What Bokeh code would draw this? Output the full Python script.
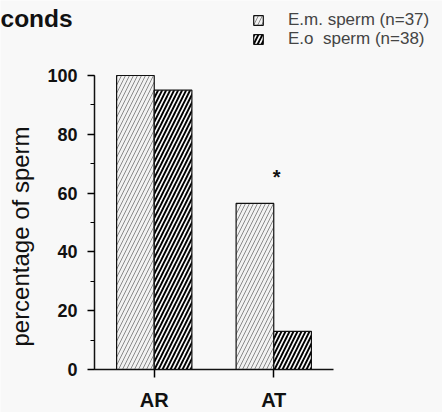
import math
from bokeh.plotting import figure
from bokeh.models import (Range1d, ColumnDataSource, Legend, LegendItem,
                          SingleIntervalTicker, FixedTicker, Label)
from bokeh.transform import dodge
from bokeh.core.properties import value
from bokeh.embed import file_html
from bokeh.resources import INLINE

# ---- data ----
categories = ["AR", "AT"]
em_sperm = [100, 56.5]
eo_sperm = [95, 13]
significance = ["", "*"]
series_labels = ["E.m. sperm (n=37)", "E.o  sperm (n=38)"]
heading_fragment = "conds"
y_title = "percentage of sperm"

FONT = "Liberation Sans"
BG = "#f8f8f8"

cat_x = [i + 0.5 for i in range(len(categories))]
sig_y = [max(a, b) + 9 for a, b in zip(em_sperm, eo_sperm)]
src = ColumnDataSource(dict(x=cat_x, cat=categories, em=em_sperm, eo=eo_sperm,
                            sig=significance, sig_y=sig_y))

W, H = 442, 412
p = figure(width=W, height=H,
           x_range=Range1d(-0.7866, 2.9121), y_range=Range1d(-14.626, 125.51),
           output_backend="svg", toolbar_location=None,
           min_border_left=0, min_border_right=0,
           min_border_top=0, min_border_bottom=0)
p.background_fill_color = BG
p.border_fill_color = BG
p.outline_line_color = None
p.xgrid.visible = False
p.ygrid.visible = False

bw = 0.315
em_r = p.vbar(x=dodge("x", -bw / 2), top="em", width=bw, source=src,
              fill_color="#f2f2f2", line_color="#111111", line_width=1.2,
              hatch_pattern="/", hatch_color="#8a8a8a", hatch_scale=8, hatch_weight=1)
eo_r = p.vbar(x=dodge("x", bw / 2), top="eo", width=bw, source=src,
              fill_color="#fafafa", line_color="#111111", line_width=1.2,
              hatch_pattern="/", hatch_color="#000000", hatch_scale=8, hatch_weight=1.9)

p.text(x=dodge("x", 0.025), y="sig_y", text="sig", source=src,
       text_font=value(FONT), text_font_size="20px", text_font_style="bold",
       text_align="center", text_baseline="middle", text_color="#111111")

# y axis
ya = p.yaxis[0]
ya.fixed_location = 0
ya.ticker = SingleIntervalTicker(interval=20, num_minor_ticks=2)
ya.bounds = (0, 100)
ya.axis_line_width = 1.5
ya.axis_line_color = "#111111"
ya.major_tick_out = 7
ya.major_tick_in = 0
ya.minor_tick_out = 4
ya.minor_tick_in = 0
ya.major_tick_line_width = 1.5
ya.minor_tick_line_width = 1.2
ya.major_label_standoff = 10
ya.major_label_text_font = FONT
ya.major_label_text_font_size = "18px"
ya.major_label_text_font_style = "bold"
ya.major_label_text_color = "#111111"

# x axis
xa = p.xaxis[0]
xa.fixed_location = 0
xa.ticker = FixedTicker(ticks=cat_x, minor_ticks=[])
xa.major_label_overrides = {xv: c for xv, c in zip(cat_x, categories)}
xa.bounds = (0, len(categories))
xa.axis_line_width = 1.5
xa.axis_line_color = "#111111"
xa.major_tick_out = 8
xa.major_tick_in = 0
xa.major_tick_line_width = 1.5
xa.major_label_standoff = 12
xa.major_label_text_font = FONT
xa.major_label_text_font_size = "20px"
xa.major_label_text_font_style = "bold"
xa.major_label_text_color = "#111111"

# y title as rotated label (screen units, origin bottom-left of canvas)
p.add_layout(Label(x=20, x_units="screen", y=H - 236, y_units="screen", text=y_title,
                   angle=math.pi / 2, text_align="center", text_baseline="middle",
                   text_font=FONT, text_font_size="24px", text_color="#111111"))

# heading fragment
p.add_layout(Label(x=0, x_units="screen", y=H - 18, y_units="screen", text=heading_fragment,
                   text_align="left", text_baseline="alphabetic",
                   text_font=FONT, text_font_size="24.5px", text_font_style="bold",
                   text_color="#111111"))

# legend: one entry per row
renderers = [em_r, eo_r]
row_bottoms = [H - 29.8, H - 49.3]
for lab, rend, vy in zip(series_labels, renderers, row_bottoms):
    lg = Legend(items=[LegendItem(label=lab, renderers=[rend])], location=(252, vy))
    lg.padding = 0
    lg.margin = 0
    lg.border_line_alpha = 0
    lg.background_fill_alpha = 0
    lg.glyph_width = 12
    lg.glyph_height = 12
    lg.label_standoff = 24
    lg.label_text_font = FONT
    lg.label_text_font_size = "17px"
    lg.label_text_color = "#444444"
    p.add_layout(lg)

open("out.html", "w").write(file_html(p, INLINE))
